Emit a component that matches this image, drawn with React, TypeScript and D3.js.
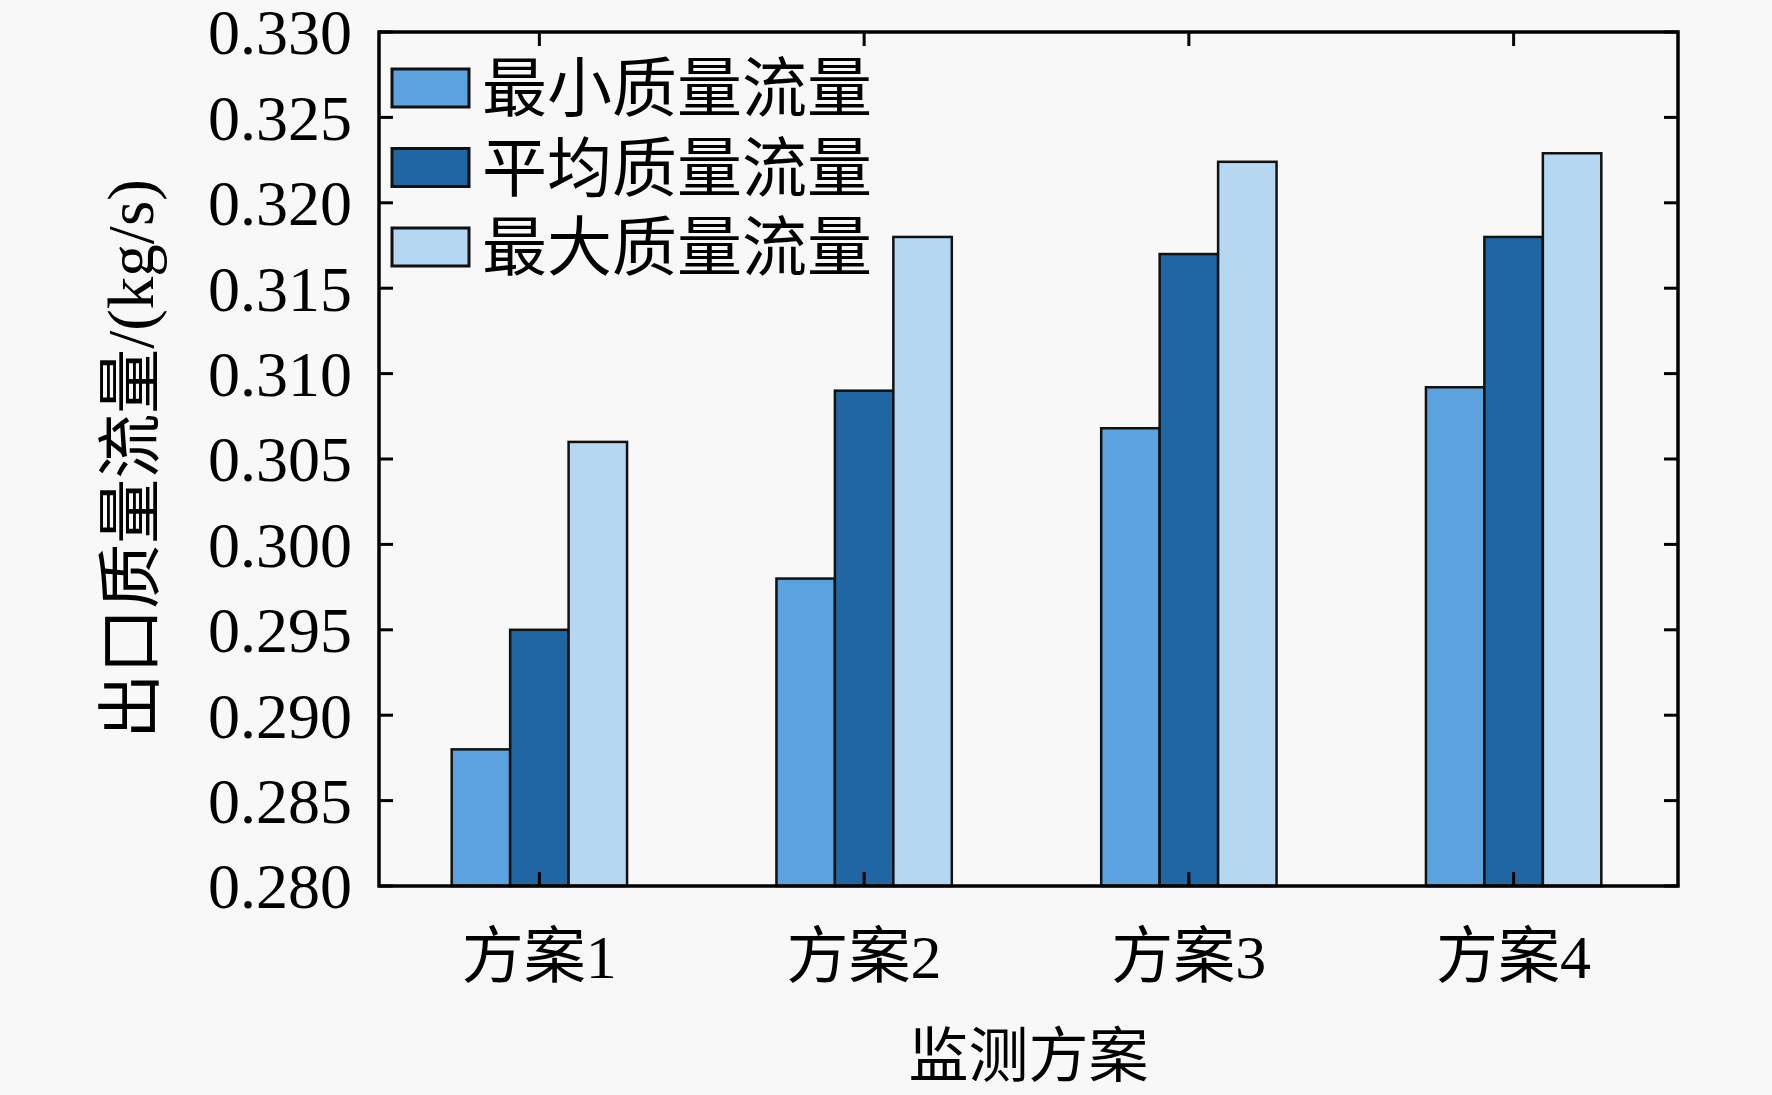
import { useEffect } from 'react';
import * as d3 from 'd3';

// chart data
const categories = ['方案1', '方案2', '方案3', '方案4'];
const seriesNames = ['最小质量流量', '平均质量流量', '最大质量流量'];
const minFlow = [0.288, 0.298, 0.3068, 0.3092];
const avgFlow = [0.295, 0.309, 0.317, 0.318];
const maxFlow = [0.306, 0.318, 0.3224, 0.3229];
const yTicks = [0.28, 0.285, 0.29, 0.295, 0.3, 0.305, 0.31, 0.315, 0.32, 0.325, 0.33];
const colors = ['#5ba2de', '#1f66a3', '#b5d7f2'];
const xTitle = '监测方案';
const yTitle = '出口质量流量/(kg/s)';

const width = 1772;
const height = 1095;
const margin = { top: 32, right: 94, bottom: 209, left: 379 };
const font = "'Liberation Serif', 'Times New Roman', 'Noto Sans CJK SC', serif";

export default function App() {
  useEffect(() => {
    document.body.style.margin = '0';
    document.body.style.background = '#f8f8f8';
  }, []);

  const series = [minFlow, avgFlow, maxFlow];
  const plotRight = width - margin.right;
  const plotBottom = height - margin.bottom;

  const x0 = d3.scaleBand<string>()
    .domain(categories)
    .range([margin.left, plotRight]);

  const groupWidth = x0.bandwidth() * 0.54;

  const x1 = d3.scaleBand<string>()
    .domain(seriesNames)
    .range([0, groupWidth]);

  const y = d3.scaleLinear()
    .domain([0.28, 0.33])
    .range([plotBottom, margin.top]);

  const fmt = d3.format('.3f');
  const tickLen = 14;

  return (
    <svg width={width} height={height} style={{ display: 'block', background: '#f8f8f8' }} fontFamily={font}>
      {/* bars */}
      {categories.map((cat, i) => {
        const gx = (x0(cat) as number) + x0.bandwidth() / 2 - groupWidth / 2 - 2;
        return (
          <g key={cat}>
            {seriesNames.map((name, j) => (
              <rect
                key={name}
                x={gx + (x1(name) as number)}
                y={y(series[j][i])}
                width={x1.bandwidth()}
                height={plotBottom - y(series[j][i])}
                fill={colors[j]}
                stroke="#111"
                strokeWidth={2.5}
              />
            ))}
          </g>
        );
      })}

      {/* y ticks, left and right, inward */}
      {yTicks.map(t => (
        <g key={t}>
          <line x1={margin.left} x2={margin.left + tickLen} y1={y(t)} y2={y(t)} stroke="#000" strokeWidth={3} />
          <line x1={plotRight} x2={plotRight - tickLen} y1={y(t)} y2={y(t)} stroke="#000" strokeWidth={3} />
          <text
            x={margin.left - 27}
            y={y(t)}
            dy="0.35em"
            textAnchor="end"
            fontSize={64}
            fill="#000"
          >
            {fmt(t)}
          </text>
        </g>
      ))}

      {/* x ticks, top and bottom, inward */}
      {categories.map(cat => {
        const cx = (x0(cat) as number) + x0.bandwidth() / 2 - 2;
        return (
          <g key={cat}>
            <line x1={cx} x2={cx} y1={margin.top} y2={margin.top + tickLen} stroke="#000" strokeWidth={3} />
            <line x1={cx} x2={cx} y1={plotBottom} y2={plotBottom - tickLen} stroke="#000" strokeWidth={3} />
            <text x={cx} y={978} textAnchor="middle" fontSize={62} fill="#000">
              {cat}
            </text>
          </g>
        );
      })}

      {/* frame */}
      <rect
        x={margin.left}
        y={margin.top}
        width={plotRight - margin.left}
        height={plotBottom - margin.top}
        fill="none"
        stroke="#000"
        strokeWidth={3.5}
      />

      {/* legend */}
      {seriesNames.map((name, j) => (
        <g key={name} transform={`translate(392, ${69 + j * 79.5})`}>
          <rect width={77} height={38} fill={colors[j]} stroke="#111" strokeWidth={3} />
          <text x={90} y={19} dy="0.36em" fontSize={65} fill="#000">
            {name}
          </text>
        </g>
      ))}

      {/* axis titles */}
      <text x={(margin.left + plotRight) / 2} y={1077} textAnchor="middle" fontSize={60} fill="#000">
        {xTitle}
      </text>
      <text
        transform={`translate(130, ${(margin.top + plotBottom) / 2}) rotate(-90)`}
        textAnchor="middle"
        dy="0.36em"
        fontSize={65}
        fill="#000"
      >
        {yTitle}
      </text>
    </svg>
  );
}
